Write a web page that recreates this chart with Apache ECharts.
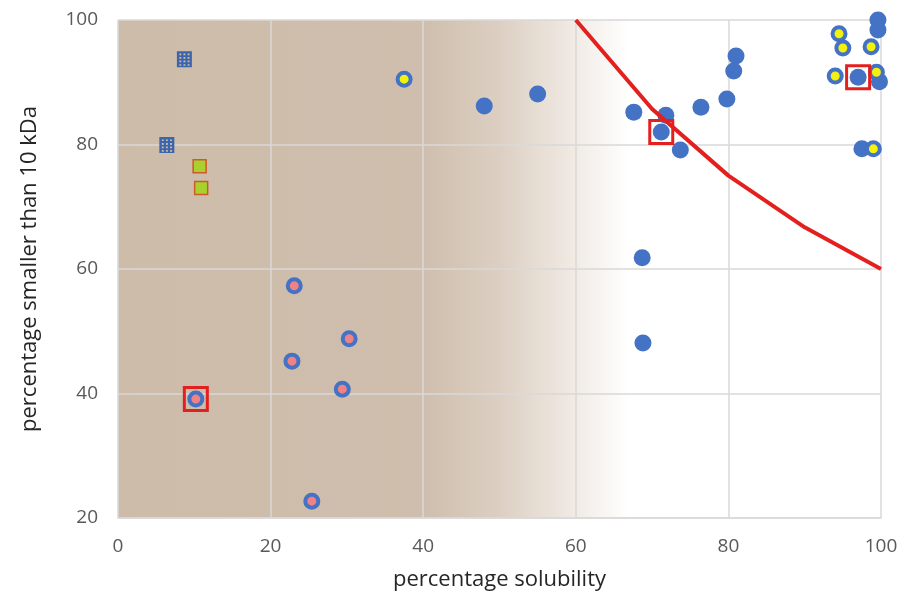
<!DOCTYPE html>
<html>
<head>
<meta charset="utf-8">
<script src="https://cdn.jsdelivr.net/npm/echarts@6/dist/echarts.min.js"></script>
<style>
  html, body { margin: 0; padding: 0; background: #fff; }
  #main { width: 901px; height: 599px; }
</style>
</head>
<body>
<div id="main"></div>
<script>
// data: [solubility %, % smaller than 10 kDa]
var bluePoints = [
    [48.0, 86.2], [55.0, 88.1], [67.6, 85.2], [71.8, 84.7], [71.2, 82.0],
    [73.7, 79.1], [76.4, 86.0], [79.8, 87.3], [80.7, 91.8], [81.0, 94.2],
    [68.7, 61.8], [68.8, 48.1], [99.6, 100], [99.6, 98.4], [97.0, 90.8],
    [97.5, 79.3], [99.8, 90.1]
];
var yellowPoints = [
    [37.5, 90.5], [94.5, 97.8], [95.0, 95.5], [98.7, 95.7], [94.0, 91.0],
    [99.4, 91.6], [99.0, 79.3]
];
var pinkPoints = [
    [23.1, 57.3], [30.3, 48.8], [22.8, 45.2], [29.4, 40.7], [10.2, 39.1], [25.4, 22.7]
];
var dottedPoints = [[8.7, 93.7], [6.4, 79.9]];
var greenPoints = [[10.7, 76.5], [10.9, 73.0]];
var boxedPoints = [[71.2, 82.0], [97.0, 90.8], [10.2, 39.1]];
var curveX = [60, 70, 80, 90, 100];
var curveY = [100, 85.7, 75, 66.7, 60];
var xTicks = [0, 20, 40, 60, 80, 100];
var yTicks = [20, 40, 60, 80, 100];

var curve = [];
for (var i = 0; i < curveX.length; i++) {
    curve.push([curveX[i], curveY[i]]);
}

// square with 3x4 little holes for the dotted markers
var dotted = 'path://M0 0 H12 V14 H0 Z';
for (var r = 0; r < 4; r++) {
    for (var c = 0; c < 3; c++) {
        var hx = 2 + c * 3.3, hy = 2 + r * 3.1;
        dotted += ' M' + hx + ' ' + hy + ' V' + (hy + 1.5) + ' H' + (hx + 1.5) + ' V' + hy + ' Z';
    }
}

var blue = '#4472c4';
var font = 'Open Sans';

var myChart = echarts.init(document.getElementById('main'));

var option = {
    animation: false,
    grid: {
        left: 118, right: 20, top: 20, bottom: 81,
        show: true,
        borderWidth: 0,
        backgroundColor: new echarts.graphic.LinearGradient(0, 0, 1, 0, [
            { offset: 0, color: '#cebcaa' },
            { offset: 0.4, color: '#cfbead' },
            { offset: 0.5, color: '#dccfc2' },
            { offset: 0.6, color: '#f1ebe5' },
            { offset: 0.67, color: '#ffffff' },
            { offset: 1, color: '#ffffff' }
        ])
    },
    xAxis: {
        type: 'value',
        min: xTicks[0], max: xTicks[xTicks.length - 1], interval: 20,
        name: 'percentage solubility',
        nameLocation: 'middle',
        nameGap: 51,
        nameTextStyle: { fontFamily: font, fontSize: 22, color: '#262626' },
        axisLine: { show: true, lineStyle: { color: '#d9d9d9', width: 1.5 } },
        axisTick: { show: false },
        axisLabel: { fontFamily: font, fontSize: 19, color: '#595959', margin: 19 },
        splitLine: { show: true, lineStyle: { color: '#d9d9d9', width: 1.5 } }
    },
    yAxis: {
        type: 'value',
        min: yTicks[0], max: yTicks[yTicks.length - 1], interval: 20,
        name: 'percentage smaller than 10 kDa',
        nameLocation: 'middle',
        nameGap: 77,
        nameTextStyle: { fontFamily: font, fontSize: 22, color: '#262626' },
        axisLine: { show: false },
        axisTick: { show: false },
        axisLabel: { fontFamily: font, fontSize: 19, color: '#595959', margin: 20 },
        splitLine: { show: true, lineStyle: { color: '#d9d9d9', width: 1.5 } }
    },
    series: [
        {
            name: 'blue',
            type: 'scatter',
            symbol: 'circle',
            symbolSize: 17,
            itemStyle: { color: blue, opacity: 1 },
            data: bluePoints
        },
        {
            name: 'yellow',
            type: 'scatter',
            symbol: 'circle',
            symbolSize: 13,
            itemStyle: { color: '#f2f20c', borderColor: blue, borderWidth: 4, opacity: 1 },
            data: yellowPoints
        },
        {
            name: 'pink',
            type: 'scatter',
            symbol: 'circle',
            symbolSize: 13,
            itemStyle: { color: '#f08284', borderColor: blue, borderWidth: 4, opacity: 1 },
            data: pinkPoints
        },
        {
            name: 'dotted',
            type: 'scatter',
            symbol: dotted,
            symbolSize: [15, 16],
            itemStyle: { color: '#3d65ab', opacity: 1 },
            data: dottedPoints
        },
        {
            name: 'green',
            type: 'scatter',
            symbol: 'rect',
            symbolSize: 13,
            itemStyle: { color: '#a8d12e', borderColor: '#d0582a', borderWidth: 1.5, opacity: 1 },
            data: greenPoints
        },
        {
            name: 'boxed',
            type: 'scatter',
            symbol: 'rect',
            symbolSize: 23,
            z: 3,
            itemStyle: { color: 'rgba(0,0,0,0)', borderColor: '#e3201e', borderWidth: 3, opacity: 1 },
            data: boxedPoints
        },
        {
            name: 'curve',
            type: 'line',
            symbol: 'none',
            z: 4,
            lineStyle: { color: '#e3201e', width: 4 },
            data: curve
        }
    ]
};

myChart.setOption(option);
</script>
</body>
</html>
